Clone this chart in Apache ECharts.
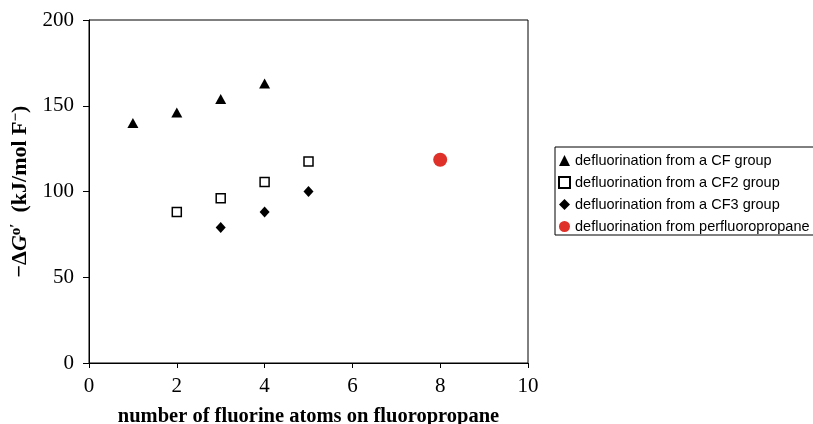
<!DOCTYPE html>
<html>
<head>
<meta charset="utf-8">
<script src="https://cdn.jsdelivr.net/npm/echarts@6/dist/echarts.min.js"></script>
<style>html,body{margin:0;padding:0;background:#fff;}#c{width:813px;height:424px;}</style>
</head>
<body>
<div id="c"></div>
<script>
var cfX = [1, 2, 3, 4];
var cfY = [140, 146, 154, 163];
var cf2X = [2, 3, 4, 5];
var cf2Y = [88, 96, 105.5, 117.5];
var cf3X = [3, 4, 5];
var cf3Y = [79, 88, 100];
var perX = [8];
var perY = [118.5];
var xTicks = [0, 2, 4, 6, 8, 10];
var yTicks = [0, 50, 100, 150, 200];
var names = ['defluorination from a CF group', 'defluorination from a CF2 group', 'defluorination from a CF3 group', 'defluorination from perfluoropropane'];

function pts(xs, ys) { return xs.map(function (x, i) { return [x, ys[i]]; }); }

var chart = echarts.init(document.getElementById('c'), null, {renderer: 'canvas'});
var serif = '"Liberation Serif", "Times New Roman", serif';
chart.setOption({
  animation: false,
  backgroundColor: '#fff',
  grid: {left: 89, right: 285, top: 20, bottom: 61, show: true, borderColor: '#000', borderWidth: 1, containLabel: false, outerBoundsMode: 'none'},
  xAxis: {
    type: 'value', min: xTicks[0], max: xTicks[xTicks.length - 1], interval: 2,
    axisLine: {show: true, lineStyle: {color: '#000', width: 1}},
    axisTick: {show: true, length: 5, lineStyle: {color: '#000'}},
    splitLine: {show: false},
    axisLabel: {color: '#000', fontFamily: serif, fontSize: 21, margin: 13},
    name: 'number of fluorine atoms on fluoropropane',
    nameLocation: 'middle', nameGap: 43,
    nameTextStyle: {color: '#000', fontFamily: serif, fontSize: 20.5, fontWeight: 'bold'}
  },
  yAxis: {
    type: 'value', min: yTicks[0], max: yTicks[yTicks.length - 1], interval: 50,
    axisLine: {show: true, lineStyle: {color: '#000', width: 1}},
    axisTick: {show: true, length: 6, lineStyle: {color: '#000'}},
    splitLine: {show: false},
    axisLabel: {color: '#000', fontFamily: serif, fontSize: 21, margin: 15},
    name: '\u2212\u0394{i|G}{sup|o\u2032}\u2002(kJ/mol F{sup|\u2212})',
    nameLocation: 'middle', nameGap: 43,
    nameTextStyle: {
      color: '#000', fontFamily: serif, fontSize: 22, fontWeight: 'bold',
      rich: {
        i: {fontFamily: serif, fontSize: 22, fontWeight: 'bold', fontStyle: 'italic', color: '#000'},
        sup: {fontFamily: serif, fontSize: 15, fontWeight: 'bold', color: '#000', padding: [0, 0, 9, 0]}
      }
    }
  },
  legend: {
    orient: 'vertical', left: 555, top: 147,
    padding: [6, 8, 1, 3],
    borderColor: '#000', borderWidth: 1,
    itemWidth: 11, itemHeight: 11, itemGap: 7,
    textStyle: {color: '#000', fontFamily: '"Liberation Sans", Arial, sans-serif', fontSize: 14.5},
    data: names
  },
  series: [
    {name: names[0], type: 'scatter', symbol: 'triangle', symbolSize: [11, 10], itemStyle: {color: '#000', opacity: 1}, data: pts(cfX, cfY)},
    {name: names[1], type: 'scatter', symbol: 'rect', symbolSize: 9, itemStyle: {color: '#fff', borderColor: '#000', borderWidth: 1.5, opacity: 1}, data: pts(cf2X, cf2Y)},
    {name: names[2], type: 'scatter', symbol: 'diamond', symbolSize: [10, 11], itemStyle: {color: '#000', opacity: 1}, data: pts(cf3X, cf3Y)},
    {name: names[3], type: 'scatter', symbol: 'circle', symbolSize: 14, itemStyle: {color: '#e0302a', opacity: 1}, data: pts(perX, perY)}
  ]
});
</script>
</body>
</html>
